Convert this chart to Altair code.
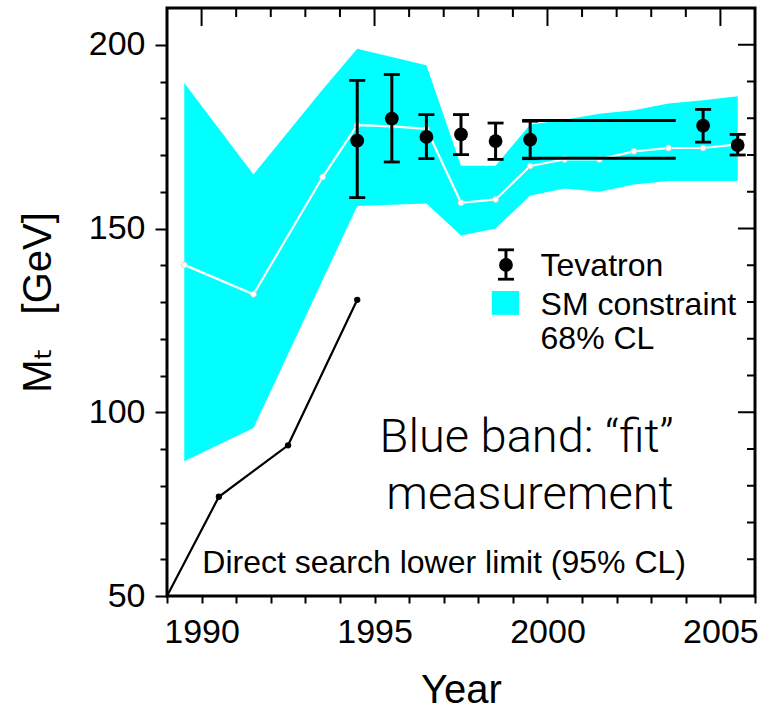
import altair as alt
import pandas as pd

# ---------------- data ----------------
# SM constraint band (68% CL)
band_year = [1989.5, 1991.5, 1993.5, 1994.5, 1996.5, 1997.5, 1998.5, 1999.5,
             2000.5, 2001.5, 2002.5, 2003.5, 2004.5, 2005.5]
band_hi = [189.6, 164.7, 187.8, 198.9, 194.4, 167.1, 167.1, 178.3,
           179.6, 181.2, 182.2, 184.0, 184.9, 186.0]
band_lo = [86.7, 95.7, 136.0, 156.1, 156.8, 148.1, 150.0, 159.0,
           160.9, 160.0, 162.0, 162.9, 162.9, 162.9]

# central fit value (white line)
fit_year = [1989.5, 1991.5, 1993.5, 1994.5, 1995.5, 1996.5, 1997.5, 1998.5,
            1999.5, 2000.5, 2001.5, 2002.5, 2003.5, 2004.5, 2005.5]
fit_val = [140.1, 132.1, 164.0, 178.1, 177.8, 177.1, 157.0, 157.9,
           167.0, 168.8, 168.8, 171.0, 171.9, 171.9, 172.9]

# Tevatron measurements
tev_year = [1994.5, 1995.5, 1996.5, 1997.5, 1998.5, 1999.5, 2004.5, 2005.5]
tev_val = [173.9, 179.9, 174.9, 175.6, 173.8, 174.2, 178.0, 172.7]
tev_lo = [158.4, 168.1, 169.0, 170.1, 168.8, 169.0, 173.5, 170.0]
tev_hi = [190.3, 191.9, 181.0, 181.0, 178.7, 179.2, 182.4, 175.6]

# wide bracket (1999-2003)
wide_x0 = [1999.27, 1999.27]
wide_x1 = [2003.71, 2003.71]
wide_y = [179.4, 169.1]

# direct search lower limit (95% CL)
ds_year = [1989.0, 1990.5, 1992.5, 1994.5]
ds_val = [50.0, 77.0, 91.0, 130.6]

# legend entries (data coordinates)
leg_pt_x = [1998.8]
leg_pt_y = [140.1]
leg_pt_lo = [136.2]
leg_pt_hi = [144.2]
leg_box_x0 = [1998.39]
leg_box_x1 = [1999.18]
leg_box_y0 = [126.5]
leg_box_y1 = [133.0]

legend_text = ["Tevatron", "SM constraint", "68% CL"]
legend_text_x = [1999.8, 1999.8, 1999.8]
legend_text_y = [139.8, 129.2, 119.9]

note_text = ["Blue band: \u201cfit\u201d", "measurement"]
note_x = [2003.65, 2003.65]
note_y = [93.0, 77.6]

ds_label = ["Direct search lower limit (95% CL)"]
ds_label_x = [1990.02]
ds_label_y = [59.0]

# axis ticks
x_ticks = [1989, 1990, 1991, 1992, 1993, 1994, 1995, 1996, 1997, 1998,
           1999, 2000, 2001, 2002, 2003, 2004, 2005, 2006]
x_major = [1990, 1995, 2000, 2005]
x_minor = [1991, 1992, 1993, 1994, 1996, 1997, 1998, 1999,
           2001, 2002, 2003, 2004]
y_ticks = [50, 60, 70, 80, 90, 100, 110, 120, 130, 140, 150, 160, 170,
           180, 190, 200]
y_major = [100, 150, 200]
y_minor = [60, 70, 80, 90, 110, 120, 130, 140, 160, 170, 180, 190]

# ---------------- chart ----------------
FONT = "Liberation Sans"
W, H = 588, 588
CYAN = "#00FFFF"

xs = alt.Scale(domain=[1989, 2006], nice=False, zero=False)
ys = alt.Scale(domain=[50, 210], nice=False, zero=False)

x_axis = alt.Axis(
    values=x_ticks, format="d",
    labelExpr="datum.value % 5 === 0 ? datum.label : ''",
    tickSize=7, tickWidth=2, tickColor="black", domain=False, grid=False,
    labelFont=FONT, labelFontSize=34, labelColor="black", labelPadding=12,
    labelOverlap=False, labelFlush=False,
    title="Year", titleFont=FONT, titleFontSize=40, titleFontWeight="normal",
    titleColor="black", titleBaseline="alphabetic", titleY=106,
)
y_axis = alt.Axis(
    values=y_ticks,
    labelExpr="datum.value % 50 === 0 ? datum.label : ''",
    tickSize={"condition": {"test": "datum.value % 50 === 0", "value": 12}, "value": 7},
    tickWidth=2, tickColor="black", domain=False, grid=False,
    labelFont=FONT, labelFontSize=34, labelColor="black", labelPadding=10,
    labelOverlap=False, labelFlush=False,
    title="M\u209c\u00a0\u00a0\u00a0[GeV]", titleFont=FONT + ", DejaVu Sans",
    titleFontSize=40, titleFontWeight="normal", titleColor="black",
    titleBaseline="alphabetic", titleX=-117,
)


def X(f):
    return alt.X(f, type="quantitative", scale=xs, axis=x_axis)


def Y(f):
    return alt.Y(f, type="quantitative", scale=ys, axis=y_axis)


band_df = pd.DataFrame({"year": band_year, "lo": band_lo, "hi": band_hi})
band = alt.Chart(band_df).mark_area(color=CYAN, opacity=1).encode(
    x=X("year"), y=Y("lo"), y2="hi"
)

fit_df = pd.DataFrame({"year": fit_year, "val": fit_val})
fit_line = alt.Chart(fit_df).mark_line(color="white", strokeWidth=2.2).encode(
    x=X("year"), y=Y("val")
)
fit_pts = alt.Chart(fit_df).mark_point(
    filled=True, fill="white", stroke="#cccccc", strokeWidth=0.8, size=36, opacity=1
).encode(x=X("year"), y=Y("val"))

ds_df = pd.DataFrame({"year": ds_year, "val": ds_val})
ds_line = alt.Chart(ds_df).mark_line(color="black", strokeWidth=2.2).encode(
    x=X("year"), y=Y("val")
)
ds_pts = alt.Chart(ds_df).transform_filter("datum.year > 1989").mark_circle(
    color="black", size=40, opacity=1
).encode(x=X("year"), y=Y("val"))

wide_df = pd.DataFrame({"x0": wide_x0, "x1": wide_x1, "y": wide_y})
wide = alt.Chart(wide_df).mark_rule(color="black", strokeWidth=3).encode(
    x=X("x0"), x2="x1", y=Y("y")
)

tev_df = pd.DataFrame({"year": tev_year + leg_pt_x, "val": tev_val + leg_pt_y,
                       "lo": tev_lo + leg_pt_lo, "hi": tev_hi + leg_pt_hi})
tev_bar = alt.Chart(tev_df).mark_rule(color="black", strokeWidth=3).encode(
    x=X("year"), y=Y("lo"), y2="hi"
)
tev_cap_lo = alt.Chart(tev_df).mark_tick(
    color="black", orient="horizontal", size=16, thickness=2.8, opacity=1
).encode(x=X("year"), y=Y("lo"))
tev_cap_hi = alt.Chart(tev_df).mark_tick(
    color="black", orient="horizontal", size=16, thickness=2.8, opacity=1
).encode(x=X("year"), y=Y("hi"))
tev_pt = alt.Chart(tev_df).mark_circle(color="black", size=190, opacity=1).encode(
    x=X("year"), y=Y("val")
)

box_df = pd.DataFrame({"x0": leg_box_x0, "x1": leg_box_x1,
                       "y0": leg_box_y0, "y1": leg_box_y1})
leg_box = alt.Chart(box_df).mark_rect(color=CYAN, opacity=1).encode(
    x=X("x0"), x2="x1", y=Y("y0"), y2="y1"
)

leg_txt_df = pd.DataFrame({"x": legend_text_x, "y": legend_text_y, "t": legend_text})
leg_txt = alt.Chart(leg_txt_df).mark_text(
    font=FONT, fontSize=32, color="black", align="left", baseline="middle"
).encode(x=X("x"), y=Y("y"), text="t:N")

note_df = pd.DataFrame({"x": note_x, "y": note_y, "t": note_text})
note = alt.Chart(note_df).mark_text(
    font="Roboto", fontWeight=300, fontSize=47, color="black",
    align="right", baseline="middle"
).encode(x=X("x"), y=Y("y"), text="t:N")

dsl_df = pd.DataFrame({"x": ds_label_x, "y": ds_label_y, "t": ds_label})
dsl = alt.Chart(dsl_df).mark_text(
    font=FONT, fontSize=32, color="black", align="left", baseline="middle"
).encode(x=X("x"), y=Y("y"), text="t:N")

# mirrored inward ticks on top and right
top_major = alt.Chart(pd.DataFrame({"v": x_major})).mark_rule(
    color="black", strokeWidth=2).encode(x=X("v"), y=alt.value(0), y2=alt.value(18))
top_minor = alt.Chart(pd.DataFrame({"v": x_minor})).mark_rule(
    color="black", strokeWidth=2).encode(x=X("v"), y=alt.value(0), y2=alt.value(9))
right_major = alt.Chart(pd.DataFrame({"v": y_major})).mark_rule(
    color="black", strokeWidth=2).encode(y=Y("v"), x=alt.value(W), x2=alt.value(W - 17))
right_minor = alt.Chart(pd.DataFrame({"v": y_minor})).mark_rule(
    color="black", strokeWidth=2).encode(y=Y("v"), x=alt.value(W), x2=alt.value(W - 8))

chart = alt.layer(
    band, fit_line, fit_pts, ds_line, ds_pts, wide, tev_bar, tev_cap_lo,
    tev_cap_hi, tev_pt, leg_box, leg_txt, note, dsl,
    top_major, top_minor, right_major, right_minor,
).properties(
    width=W, height=H,
    autosize=alt.AutoSizeParams(type="none"),
    padding={"left": 167, "top": 8, "right": 9, "bottom": 115},
    background="white",
).configure_view(stroke="black", strokeWidth=3)

chart.save("out.html", embed_options={"renderer": "svg", "actions": False})
